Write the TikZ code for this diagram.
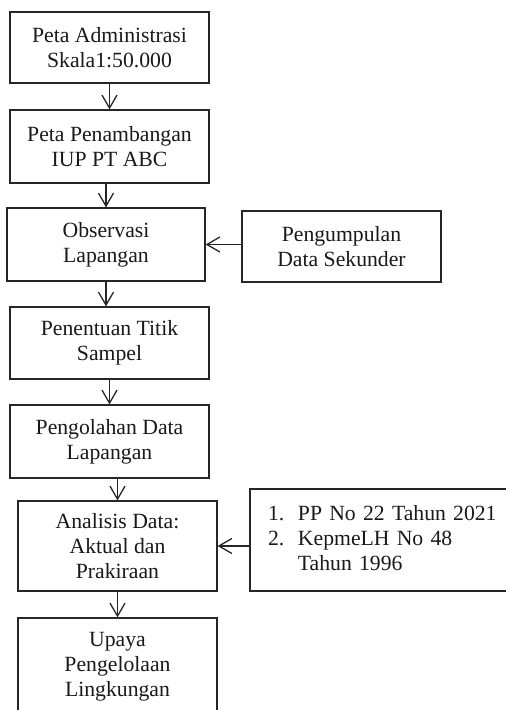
\documentclass[tikz,border=0pt]{standalone}
\usepackage{fontspec}
\setmainfont{Liberation Serif}
\usetikzlibrary{arrows.meta}
\begin{document}
\begin{tikzpicture}[x=1pt,y=1pt,
  box/.style={draw=black!85, line width=1.2pt, align=center, minimum width=199pt, inner sep=0pt,
    font=\fontsize{21.7}{25}\selectfont, text=black!90},
  arr/.style={draw=black!85, line width=1.3pt, -{Straight Barb[length=13pt,width=15pt,line width=1.3pt]}}]
\useasboundingbox (0,0) rectangle (506,-710);
\clip (0,0) rectangle (506,-710);
\node[box, minimum height=71pt] (b1) at (109.5,-47.5) {Peta Administrasi\\Skala1:50.000};
\node[box, minimum height=73pt] (b2) at (109.5,-146.5) {Peta Penambangan\\IUP PT ABC};
\node[box, minimum height=73pt, minimum width=198pt] (b3) at (106,-244.5) {Observasi\\Lapangan};
\node[box, minimum height=71pt] (bs) at (341.5,-246.5) {Pengumpulan\\Data Sekunder};
\node[box, minimum height=72pt] (b4) at (109.5,-343) {Penentuan Titik\\Sampel};
\node[box, minimum height=73pt] (b5) at (109.5,-441.5) {Pengolahan Data\\Lapangan};
\node[box, minimum height=90pt] (b6) at (117.5,-546) {Analisis Data:\\Aktual dan\\Prakiraan};
\node[box, minimum height=102pt, minimum width=270pt, text width=234pt, inner xsep=18pt, align=left] (br) at (385,-540)
  {\begin{tabular}{@{}l@{\hspace{13.7pt}}l@{}}1. & PP No 22 Tahun 2021\\2. & KepmeLH No 48\\ & Tahun 1996\end{tabular}};
\node[box, minimum height=98pt] (b7) at (117.5,-667) {Upaya\\Pengelolaan\\Lingkungan};
\draw[arr] (b1.south) -- (b2.north);
\draw[arr] (b2.south -| b3.north) -- (b3.north);
\draw[arr] (b3.south) -- (b3.south |- b4.north);
\draw[arr] (b4.south) -- (b5.north);
\draw[arr] (b5.south -| b6.north) -- (b6.north);
\draw[arr] (b6.south) -- (b7.north);
\draw[arr] (bs.west |- b3.east) -- (b3.east);
\draw[arr] (br.west |- b6.east) -- (b6.east);
\end{tikzpicture}
\end{document}
